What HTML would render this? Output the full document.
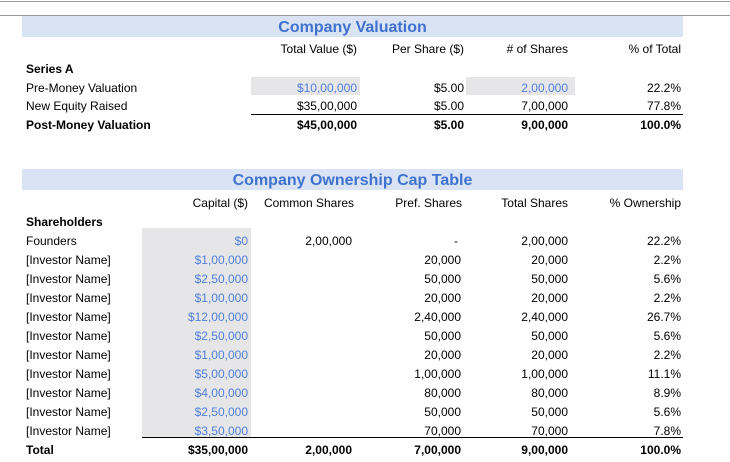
<!DOCTYPE html>
<html><head><meta charset="utf-8"><style>
body{margin:0;width:730px;height:451px;overflow:hidden;background:#fff;font-family:"Liberation Sans",Arial,sans-serif;font-size:12px;color:#000;position:relative}
div{position:absolute;white-space:nowrap;line-height:23px;height:19px}
.l{left:26px}
.b{font-weight:bold}
.u{color:#4f7fd8}
.g{background:#e6e6e8}
.band{background:#d9e3f4;left:22px;width:661px;height:21px;text-align:center;color:#3f72cf;font-weight:bold;font-size:16px;line-height:24px}
.hl{height:0;border-top:1px solid #000}
</style></head><body>
<div style="left:0;top:1px;width:730px;height:0;border-top:1px solid #999"></div>
<div style="left:0;top:15px;width:730px;height:0;border-top:1px solid #999"></div>
<div class="band" style="top:16px">Company Valuation</div>
<div class="g" style="left:251px;top:77px;width:109px;height:18px"></div>
<div class="g" style="left:466px;top:77px;width:109px;height:18px"></div>
<div class="hl" style="left:251px;top:114px;width:432px"></div>

<div style="top:38px;right:373px">Total Value ($)</div>
<div style="top:38px;right:266px">Per Share ($)</div>
<div style="top:38px;right:162px">#&nbsp;of Shares</div>
<div style="top:38px;right:49px">% of Total</div>
<div class="l b" style="top:58px">Series A</div>
<div class="l" style="top:77px">Pre-Money Valuation</div>
<div class="u" style="top:77px;right:373px">$10,00,000</div>
<div style="top:77px;right:266px">$5.00</div>
<div class="u" style="top:77px;right:162px">2,00,000</div>
<div style="top:77px;right:49px">22.2%</div>
<div class="l" style="top:95px">New Equity Raised</div>
<div style="top:95px;right:373px">$35,00,000</div>
<div style="top:95px;right:266px">$5.00</div>
<div style="top:95px;right:162px">7,00,000</div>
<div style="top:95px;right:49px">77.8%</div>
<div class="l b" style="top:114px">Post-Money Valuation</div>
<div class="b" style="top:114px;right:373px">$45,00,000</div>
<div class="b" style="top:114px;right:266px">$5.00</div>
<div class="b" style="top:114px;right:162px">9,00,000</div>
<div class="b" style="top:114px;right:49px">100.0%</div>

<div class="band" style="top:169px">Company Ownership Cap Table</div>
<div class="g" style="left:142px;top:228px;width:109px;height:209px"></div>
<div class="hl" style="left:142px;top:437px;width:541px"></div>
<div style="top:192px;right:482px">Capital ($)</div>
<div style="top:192px;right:376px">Common Shares</div>
<div style="top:192px;right:268px">Pref. Shares</div>
<div style="top:192px;right:162px">Total Shares</div>
<div style="top:192px;right:49px">% Ownership</div>
<div class="l b" style="top:211px">Shareholders</div>

<div class="l" style="top:230px">Founders</div>
<div class="u" style="top:230px;right:482px">$0</div>
<div style="top:230px;right:378px">2,00,000</div>
<div style="top:230px;right:272px">-</div>
<div style="top:230px;right:162px">2,00,000</div>
<div style="top:230px;right:49px">22.2%</div>

<div class="l" style="top:249px">[Investor Name]</div><div class="u" style="top:249px;right:482px">$1,00,000</div><div style="top:249px;right:269px">20,000</div><div style="top:249px;right:162px">20,000</div><div style="top:249px;right:49px">2.2%</div>
<div class="l" style="top:268px">[Investor Name]</div><div class="u" style="top:268px;right:482px">$2,50,000</div><div style="top:268px;right:269px">50,000</div><div style="top:268px;right:162px">50,000</div><div style="top:268px;right:49px">5.6%</div>
<div class="l" style="top:287px">[Investor Name]</div><div class="u" style="top:287px;right:482px">$1,00,000</div><div style="top:287px;right:269px">20,000</div><div style="top:287px;right:162px">20,000</div><div style="top:287px;right:49px">2.2%</div>
<div class="l" style="top:306px">[Investor Name]</div><div class="u" style="top:306px;right:482px">$12,00,000</div><div style="top:306px;right:269px">2,40,000</div><div style="top:306px;right:162px">2,40,000</div><div style="top:306px;right:49px">26.7%</div>
<div class="l" style="top:325px">[Investor Name]</div><div class="u" style="top:325px;right:482px">$2,50,000</div><div style="top:325px;right:269px">50,000</div><div style="top:325px;right:162px">50,000</div><div style="top:325px;right:49px">5.6%</div>
<div class="l" style="top:344px">[Investor Name]</div><div class="u" style="top:344px;right:482px">$1,00,000</div><div style="top:344px;right:269px">20,000</div><div style="top:344px;right:162px">20,000</div><div style="top:344px;right:49px">2.2%</div>
<div class="l" style="top:363px">[Investor Name]</div><div class="u" style="top:363px;right:482px">$5,00,000</div><div style="top:363px;right:269px">1,00,000</div><div style="top:363px;right:162px">1,00,000</div><div style="top:363px;right:49px">11.1%</div>
<div class="l" style="top:382px">[Investor Name]</div><div class="u" style="top:382px;right:482px">$4,00,000</div><div style="top:382px;right:269px">80,000</div><div style="top:382px;right:162px">80,000</div><div style="top:382px;right:49px">8.9%</div>
<div class="l" style="top:401px">[Investor Name]</div><div class="u" style="top:401px;right:482px">$2,50,000</div><div style="top:401px;right:269px">50,000</div><div style="top:401px;right:162px">50,000</div><div style="top:401px;right:49px">5.6%</div>
<div class="l" style="top:420px">[Investor Name]</div><div class="u" style="top:420px;right:482px">$3,50,000</div><div style="top:420px;right:269px">70,000</div><div style="top:420px;right:162px">70,000</div><div style="top:420px;right:49px">7.8%</div>

<div class="l b" style="top:439px">Total</div>
<div class="b" style="top:439px;right:482px">$35,00,000</div>
<div class="b" style="top:439px;right:378px">2,00,000</div>
<div class="b" style="top:439px;right:269px">7,00,000</div>
<div class="b" style="top:439px;right:162px">9,00,000</div>
<div class="b" style="top:439px;right:49px">100.0%</div>
</body></html>
